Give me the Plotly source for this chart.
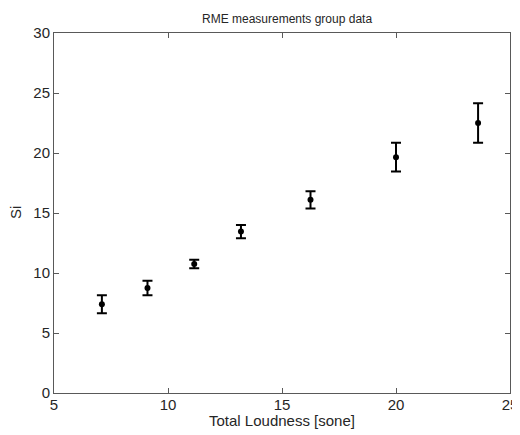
import plotly.graph_objects as go

# group data
loudness = [7.1, 9.1, 11.15, 13.2, 16.25, 20.0, 23.6]
si_mean = [7.4, 8.75, 10.75, 13.45, 16.1, 19.65, 22.5]
si_err = [0.75, 0.6, 0.35, 0.55, 0.72, 1.2, 1.65]

x_ticks = [5, 10, 15, 20, 25]
y_ticks = [0, 5, 10, 15, 20, 25, 30]

axis_col = "#595959"
text_col = "#262626"
font_fam = "Liberation Sans, Arial"

fig = go.Figure()
fig.add_trace(go.Scatter(
    x=loudness, y=si_mean,
    mode="markers",
    marker=dict(color="black", size=6),
    error_y=dict(type="data", array=si_err, visible=True,
                 color="black", thickness=2, width=5),
    showlegend=False,
))

axis_common = dict(
    showgrid=False, zeroline=False, automargin=False,
    showline=True, linecolor=axis_col, linewidth=1, mirror="ticks",
    ticks="inside", ticklen=5, tickcolor=axis_col, tickwidth=1,
    tickfont=dict(family=font_fam, size=15, color=text_col),
)

# page body has an 8px margin, so the figure is a bit smaller than the window
fig.update_layout(
    width=512, height=427,
    margin=dict(l=46, r=10, t=25, b=42),
    paper_bgcolor="white", plot_bgcolor="white",
    title=dict(text="RME measurements group data", x=0.545, xanchor="center",
               y=0.974, yanchor="middle",
               font=dict(family=font_fam, size=12, color=text_col)),
    xaxis=dict(axis_common, range=[5, 25], tickvals=x_ticks, ticklabelstandoff=-2),
    yaxis=dict(axis_common, range=[0, 30], tickvals=y_ticks),
)

# axis titles as annotations for exact placement
fig.add_annotation(text="Total Loudness [sone]", xref="paper", yref="paper",
                   x=0.5, y=0, xanchor="center", yanchor="top", yshift=-17,
                   showarrow=False,
                   font=dict(family=font_fam, size=15, color=text_col))
fig.add_annotation(text="Si", xref="paper", yref="paper",
                   x=0, y=0.5, xanchor="center", yanchor="middle", xshift=-39,
                   textangle=-90, showarrow=False,
                   font=dict(family=font_fam, size=15, color=text_col))

fig.write_html("out.html")
